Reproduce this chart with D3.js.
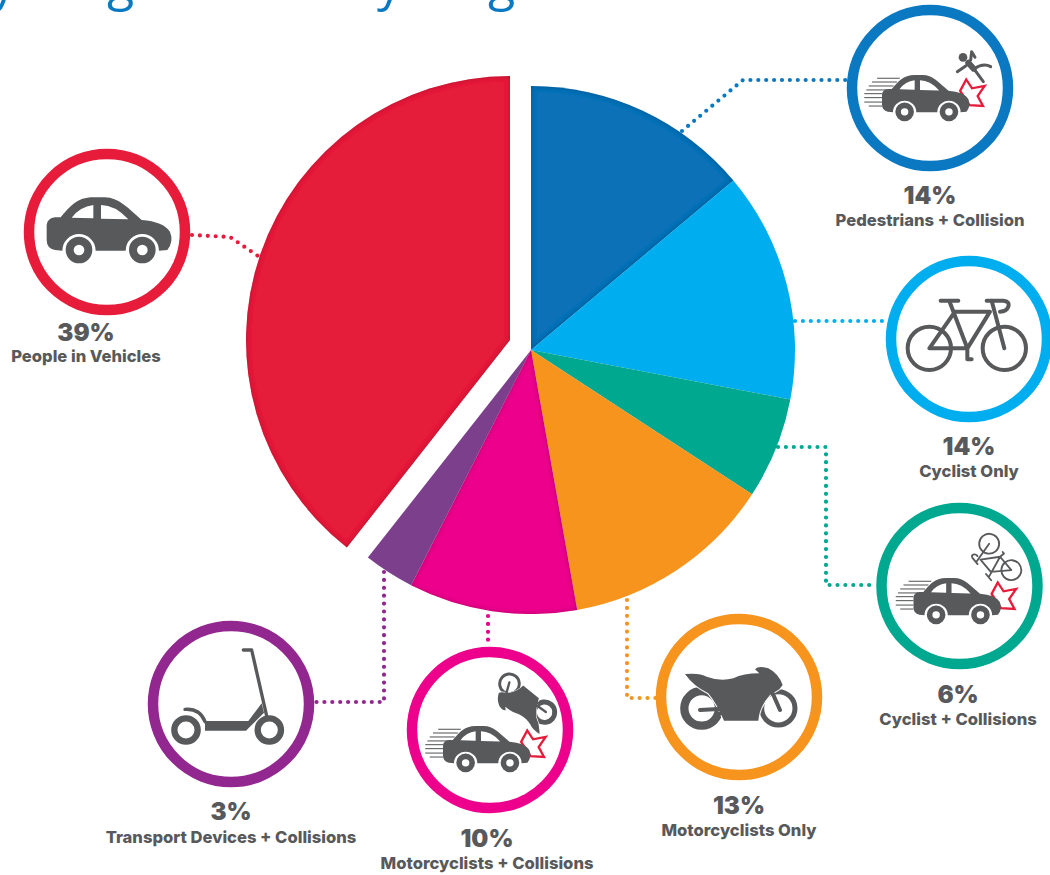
<!DOCTYPE html>
<html>
<head>
<meta charset="utf-8">
<style>
  html, body { margin: 0; padding: 0; background: #fff; overflow: hidden; }
  svg { display: block; }
  .pct { font-family: Inter, sans-serif; font-weight: 900; font-size: 24px; fill: #58595b; text-anchor: middle; }
  .name { font-family: Inter, sans-serif; font-weight: 800; font-size: 16.6px; fill: #58595b; text-anchor: middle; }
  .title { font-family: "Open Sans", sans-serif; font-size: 50px; fill: #0a79c2; }
</style>
</head>
<body>
<svg class="chart" width="1050" height="875"></svg>
<script src="https://cdnjs.cloudflare.com/ajax/libs/d3/7.8.5/d3.min.js"></script>
<script>
// chart values, going clockwise from twelve o'clock
var categories = ["Pedestrians + Collision", "Cyclist Only", "Cyclist + Collisions", "Motorcyclists Only", "Motorcyclists + Collisions", "Transport Devices + Collisions", "People in Vehicles"];
var percents = [14, 14, 6, 13, 10, 3, 39];
// the printed labels add to 99, these are the wedge sizes
var sliceShares = [13.9, 14.1, 6.2, 13, 10.3, 3.1, 39.4];
var sliceColors = ["#0f71b8", "#00aeef", "#00a88f", "#f7941d", "#ec008c", "#7b3f8c", "#e61c3a"];
var ringColors = ["#0a79c2", "#00aeef", "#00a88f", "#f7941d", "#ec008c", "#92278f", "#e61c3a"];
var titleLetters = ["y", "g", "y", "g"];

var svg = d3.select(".chart");
var grey = "#58595b";
var red = "#e61c3a";

// inner shadow along the wedge edges
var filter = svg.append("defs").append("filter").attr("id", "inner")
    .attr("x", "-5%").attr("y", "-5%").attr("width", "110%").attr("height", "110%");
filter.append("feComponentTransfer").attr("in", "SourceAlpha").attr("result", "inv")
    .append("feFuncA").attr("type", "table").attr("tableValues", "1 0");
filter.append("feGaussianBlur").attr("in", "inv").attr("stdDeviation", 2.4).attr("result", "blur");
filter.append("feFlood").attr("flood-color", "#000").attr("flood-opacity", 0.5).attr("result", "dark");
filter.append("feComposite").attr("in", "dark").attr("in2", "blur").attr("operator", "in").attr("result", "shade");
filter.append("feComposite").attr("in", "shade").attr("in2", "SourceAlpha").attr("operator", "in").attr("result", "clipped");
var merge = filter.append("feMerge");
merge.append("feMergeNode").attr("in", "SourceGraphic");
merge.append("feMergeNode").attr("in", "clipped");

// title is cut off by the top of the picture, only the descenders show
var titleX = [-9, 107, 377, 488];
svg.selectAll(".title").data(titleLetters).enter().append("text")
    .attr("class", "title")
    .attr("x", function(d, i) { return titleX[i]; })
    .attr("y", 0)
    .text(function(d) { return d; });

// dotted leaders, same order as categories
var leaders = [
    [[682, 131], [743, 80], [847, 80]],
    [[795, 321], [887, 321]],
    [[778, 447], [826, 447], [826, 585], [876, 585]],
    [[627, 600], [627, 698], [656, 698]],
    [[488, 616], [488, 647]],
    [[384, 572], [384, 702], [314, 702]],
    [[192, 235], [230, 237], [258, 256]]
];
svg.selectAll(".leader").data(leaders).enter().append("path")
    .attr("class", "leader")
    .attr("d", d3.line())
    .attr("fill", "none")
    .attr("stroke", function(d, i) { return ringColors[i]; })
    .attr("stroke-width", 4.2)
    .attr("stroke-linecap", "round")
    .attr("stroke-dasharray", "0 7.9");

// pie
var pie = d3.pie().sort(null).value(function(d) { return d; });
var arc = d3.arc().innerRadius(0).outerRadius(264);
var pieG = svg.append("g").attr("transform", "translate(531,350)");
pieG.selectAll("path").data(pie(sliceShares)).enter().append("path")
    .attr("d", arc)
    .attr("fill", function(d, i) { return sliceColors[i]; })
    .attr("filter", function(d, i) { return (i === 0 || i === 4 || i === 6) ? "url(#inner)" : null; })
    .attr("transform", function(d, i) { return i === 6 ? "translate(-21,-10)" : null; });

// ring centres and label positions
var spots = [
    { x: 930, y: 88, px: 930, py: 204, ny: 226 },
    { x: 969, y: 339, px: 969, py: 455, ny: 477 },
    { x: 959.5, y: 586, px: 958, py: 703, ny: 725 },
    { x: 739, y: 697, px: 739, py: 814, ny: 836 },
    { x: 490, y: 730, px: 487, py: 847, ny: 869 },
    { x: 231, y: 704, px: 231, py: 820, ny: 843 },
    { x: 107, y: 232, px: 86, py: 341, ny: 362 }
];

var groups = svg.selectAll(".ring").data(spots).enter().append("g")
    .attr("class", "ring")
    .attr("transform", function(d) { return "translate(" + d.x + "," + d.y + ")"; });
groups.append("circle")
    .attr("r", 78)
    .attr("fill", "#fff")
    .attr("stroke", function(d, i) { return ringColors[i]; })
    .attr("stroke-width", 10.5);

spots.forEach(function(s, i) {
    svg.append("text").attr("class", "pct").attr("x", s.px).attr("y", s.py).text(percents[i] + "%");
    svg.append("text").attr("class", "name").attr("x", s.px).attr("y", s.ny).text(categories[i]);
});

// icons, drawn in their own little coordinate systems
function drawCar(g, moving) {
    if (moving) {
        [[66, 29, 126], [82, 7, 114], [99, -7, 100], [116, -17, 71], [132, -26, 50], [149, -26, 50], [168, -26, 50], [185, -7, 50]].forEach(function(l) {
            g.append("line").attr("x1", l[1]).attr("x2", l[2]).attr("y1", l[0]).attr("y2", l[0])
                .attr("stroke", grey).attr("stroke-width", 4.5);
        });
        g.append("path")
            .attr("d", "M385,120L411,71L436,109L490,99L460,142L483,185L425,181Z")
            .attr("fill", "#fff").attr("stroke", red).attr("stroke-width", 10).attr("stroke-linejoin", "miter");
    }
    g.append("path")
        .attr("d", "M50,135Q52,115 75,112L92,112C120,80 140,52 190,52L225,52C265,52 295,85 335,120Q400,125 420,155Q432,185 412,210L387,212A50,50 0 0 0 287,212L197,212A50,50 0 0 0 97,212L75,210Q50,205 50,180Z")
        .attr("fill", grey);
    g.append("path").attr("d", "M125,113Q150,80 190,75L190,115ZM213,75Q255,75 295,118L213,116Z").attr("fill", "#fff");
    [147, 337].forEach(function(cx) {
        g.append("circle").attr("cx", cx).attr("cy", 210).attr("r", 28).attr("fill", "#fff")
            .attr("stroke", grey).attr("stroke-width", 24);
    });
}

function drawBike(g) {
    var stroked = g.append("g").attr("fill", "none").attr("stroke", grey).attr("stroke-width", 12)
        .attr("stroke-linecap", "round").attr("stroke-linejoin", "round");
    stroked.append("circle").attr("cx", 148).attr("cy", 205).attr("r", 65);
    stroked.append("circle").attr("cx", 373).attr("cy", 205).attr("r", 65);
    stroked.append("path").attr("d", "M148,205L225,95L330,95L262,205ZM208,63L262,205L262,238L275,238M182,62L235,62M335,62L373,205M320,62L370,62Q390,64 385,80Q380,95 360,95");
}

function drawMoto(g) {
    g.append("circle").attr("cx", 95).attr("cy", 175).attr("r", 52).attr("fill", "none").attr("stroke", grey).attr("stroke-width", 25);
    g.append("circle").attr("cx", 325).attr("cy", 175).attr("r", 50).attr("fill", "none").attr("stroke", grey).attr("stroke-width", 15);
    g.append("path")
        .attr("d", "M45,72Q90,68 110,80Q150,95 190,85Q220,70 268,70L255,58Q265,45 295,55Q325,70 338,105L328,118L300,135Q268,170 265,212L162,212Q140,160 115,130Q70,108 45,72Z")
        .attr("fill", grey).attr("stroke", "#fff").attr("stroke-width", 6).attr("paint-order", "stroke");
    g.append("path").attr("d", "M90,180L160,176M150,190L170,190M308,130L330,180").attr("stroke", grey).attr("stroke-width", 12).attr("stroke-linecap", "round");
}

function drawScooter(g) {
    g.append("circle").attr("cx", 78).attr("cy", 270).attr("r", 35).attr("fill", "none").attr("stroke", grey).attr("stroke-width", 19);
    g.append("circle").attr("cx", 328).attr("cy", 270).attr("r", 35).attr("fill", "none").attr("stroke", grey).attr("stroke-width", 19);
    g.append("path").attr("d", "M135,243L265,243L305,190L312,218L275,255L258,272L135,272Z").attr("fill", grey);
    g.append("path").attr("d", "M250,30L275,30L320,228M75,208Q120,205 135,245")
        .attr("fill", "none").attr("stroke", grey).attr("stroke-width", 10).attr("stroke-linecap", "round").attr("stroke-linejoin", "round");
}

function drawPedestrian(g) {
    g.append("circle").attr("cx", 369).attr("cy", 172).attr("r", 13).attr("fill", grey);
    // torso is thicker than the limbs
    g.append("path").attr("d", "M385,188L401,206")
        .attr("stroke", grey).attr("stroke-width", 18).attr("stroke-linecap", "round");
    g.append("path").attr("d", "M403,206Q430,188 452,200M403,208L430,245M378,197L352,215M392,180L395,155L405,172")
        .attr("fill", "none").attr("stroke", grey).attr("stroke-width", 9).attr("stroke-linecap", "round").attr("stroke-linejoin", "round");
}

function crashCar(i, left, top) {
    var g = d3.select(groups.nodes()[i]).append("g")
        .attr("transform", "translate(" + (left - 50 * 0.2333) + "," + (top - 52 * 0.2333) + ") scale(0.2333)");
    drawCar(g, true);
}

crashCar(0, -48, -13);
crashCar(2, -46, -8);
crashCar(4, -47, -4);

drawPedestrian(d3.select(groups.nodes()[0]).append("g").attr("transform", "translate(-90,-88) scale(0.3333)"));

drawBike(d3.select(groups.nodes()[1]).append("g").attr("transform", "translate(-89,-59) scale(0.3333)"));
drawBike(d3.select(groups.nodes()[2]).append("g").attr("transform", "translate(40.8,-29) rotate(230) scale(0.1533) translate(-260,-205)"));

drawMoto(d3.select(groups.nodes()[3]).append("g").attr("transform", "translate(-69,-47) scale(0.3333)"));
drawMoto(d3.select(groups.nodes()[4]).append("g").attr("transform", "translate(37,-32) rotate(219) scale(0.196) translate(-210,-175)"));

drawScooter(d3.select(groups.nodes()[5]).append("g").attr("transform", "translate(-71,-64) scale(0.3333)"));

drawCar(d3.select(groups.nodes()[6]).append("g").attr("transform", "translate(-77,-52) scale(0.3333)"), false);
</script>
</body>
</html>
